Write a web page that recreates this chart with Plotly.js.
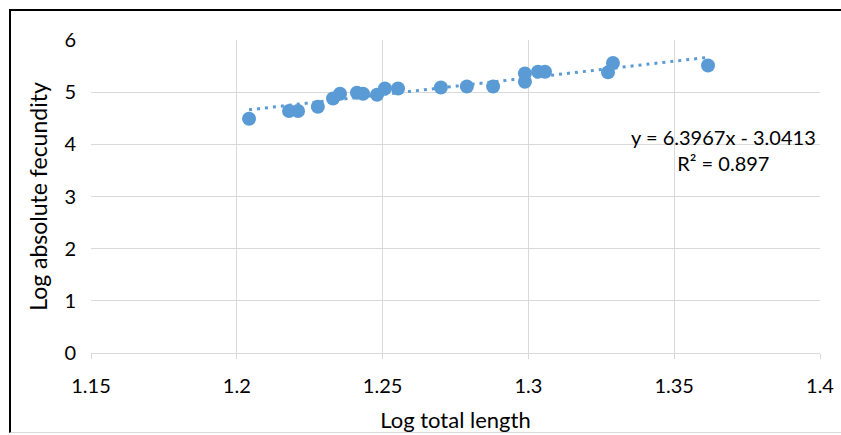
<!DOCTYPE html>
<html>
<head>
<meta charset="utf-8">
<script src="https://cdn.plot.ly/plotly-3.0.1.min.js"></script>
<style>
  html, body { margin: 0; padding: 0; background: #fff; }
  #wrap { position: relative; width: 841px; height: 435px; }
  #chart { width: 841px; height: 435px; }
  #frame { position: absolute; left: 9px; top: 9px; width: 840px; height: 424px;
           border-left: 2px solid #000; border-top: 2px solid #000; border-bottom: 1px solid #d9d9d9;
           pointer-events: none; box-sizing: border-box; }
</style>
</head>
<body>
<div id="wrap">
  <div id="chart"></div>
  <div id="frame"></div>
</div>
<script>
const logLength = [1.2042, 1.2179, 1.2210, 1.2278, 1.2330, 1.2354, 1.2412, 1.2433, 1.2481, 1.2508, 1.2553,
                   1.2700, 1.2789, 1.2879, 1.2988, 1.2988, 1.3033, 1.3057, 1.3273, 1.3290, 1.3616];
const logFecundity = [4.49, 4.64, 4.64, 4.72, 4.88, 4.97, 4.99, 4.97, 4.95, 5.07, 5.07,
                      5.09, 5.11, 5.11, 5.36, 5.20, 5.39, 5.39, 5.38, 5.56, 5.51];
const slope = 6.3967;
const intercept = -3.0413;
const rSquared = 0.897;
const xTicks = [1.15, 1.2, 1.25, 1.3, 1.35, 1.4];
const xTickLabels = ['1.15', '1.2', '1.25', '1.3', '1.35', '1.4'];
const yTicks = [0, 1, 2, 3, 4, 5, 6];

const xMin = Math.min(...logLength), xMax = Math.max(...logLength);
const trendX = [xMin, xMax];
const trendY = trendX.map(x => slope * x + intercept);

const blue = '#5B9BD5';
const font = 'Lato, "Open Sans", sans-serif';

const data = [
  { x: logLength, y: logFecundity, type: 'scatter', mode: 'markers',
    marker: { color: blue, size: 14 }, hoverinfo: 'x+y', showlegend: false },
  { x: trendX, y: trendY, type: 'scatter', mode: 'lines',
    line: { color: blue, width: 3, dash: '3px,5px' }, hoverinfo: 'skip', showlegend: false }
];

const layout = {
  width: 841, height: 435,
  margin: { l: 91, r: 21, t: 40, b: 82 },
  paper_bgcolor: '#fff', plot_bgcolor: '#fff',
  font: { family: font, size: 20, color: '#000' },
  xaxis: {
    range: [1.15, 1.4], tickvals: xTicks, ticktext: xTickLabels,
    showgrid: true, gridcolor: '#d9d9d9', gridwidth: 1,
    zeroline: false, showline: true, linecolor: '#d9d9d9', linewidth: 1, mirror: false,
    ticks: 'outside', ticklen: 5, tickcolor: '#d9d9d9',
    ticklabelstandoff: 10,
    tickfont: { family: font, size: 20, color: '#000' },
    title: { text: 'Log total length', font: { family: font, size: 22, color: '#000' }, standoff: 16 }
  },
  yaxis: {
    range: [0, 6], tickvals: yTicks,
    showgrid: true, gridcolor: '#d9d9d9', gridwidth: 1,
    zeroline: false, showline: false,
    ticks: '', ticklen: 0,
    ticklabelstandoff: 14,
    tickfont: { family: font, size: 20, color: '#000' },
    title: { text: 'Log absolute fecundity', font: { family: font, size: 23, color: '#000' }, standoff: 10 }
  },
  annotations: [
    { xref: 'paper', yref: 'paper', x: (723 - 91) / 729, y: (352.5 - 150) / 312.5,
      xanchor: 'center', yanchor: 'middle', align: 'center', showarrow: false,
      text: 'y = ' + slope + 'x - ' + Math.abs(intercept) + '<br>R² = ' + rSquared,
      font: { family: font, size: 20, color: '#000' } }
  ]
};

Plotly.newPlot('chart', data, layout, { displayModeBar: false, staticPlot: true });
</script>
</body>
</html>
